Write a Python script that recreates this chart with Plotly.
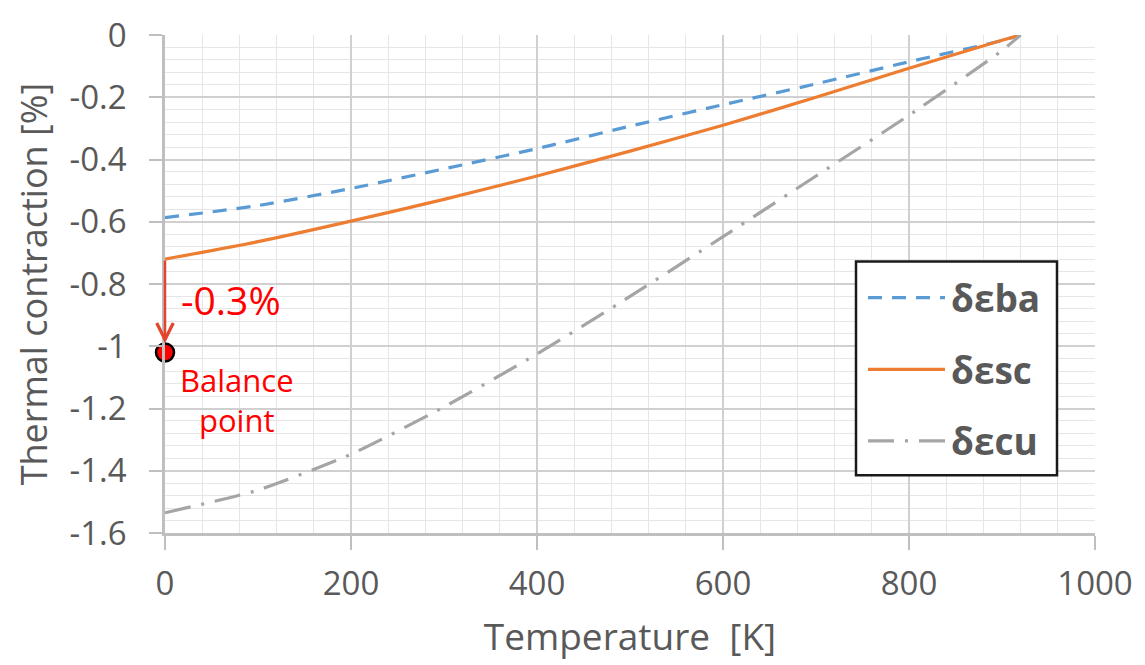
import plotly.graph_objects as go

# ---- data ----
temperature_K = [0, 100, 200, 300, 400, 500, 600, 700, 800, 900, 920]
d_eps_ba = [-0.587, -0.548, -0.493, -0.430, -0.365, -0.293, -0.224, -0.157, -0.086, -0.018, 0.0]
d_eps_sc = [-0.720, -0.664, -0.598, -0.528, -0.453, -0.373, -0.290, -0.200, -0.107, -0.017, 0.0]
d_eps_cu = [-1.535, -1.462, -1.347, -1.195, -1.025, -0.840, -0.648, -0.453, -0.258, -0.050, 0.0]
series_names = ["δεba", "δεsc", "δεcu"]

x_tick_vals = [0, 200, 400, 600, 800, 1000]
x_tick_text = ["0", "200", "400", "600", "800", "1000"]
y_tick_vals = [0, -0.2, -0.4, -0.6, -0.8, -1.0, -1.2, -1.4, -1.6]
y_tick_text = ["0", "-0.2", "-0.4", "-0.6", "-0.8", "-1", "-1.2", "-1.4", "-1.6"]

balance_T = [0]
balance_val = [-1.02]
arrow_start_val = d_eps_sc[0]

# ---- styles ----
colors = ["#5B9BD5", "#ED7D31", "#A5A5A5"]
dashes = ["14px,10px", "solid", "26px,11px,3px,11px"]
FONT = "Open Sans"
GREY = "#595959"
RED = "#FF0000"

fig = go.Figure()
for name, vals, c, d in zip(series_names, [d_eps_ba, d_eps_sc, d_eps_cu], colors, dashes):
    fig.add_trace(go.Scatter(x=temperature_K, y=vals, mode="lines", name=name,
                             line=dict(color=c, width=3.2, dash=d, shape="spline", smoothing=0.6),
                             showlegend=False, hoverinfo="skip"))

# arrow from orange line start to balance point
fig.add_annotation(x=balance_T[0], y=balance_val[0] + 0.03, ax=balance_T[0], ay=arrow_start_val,
                   xref="x", yref="y", axref="x", ayref="y", text="", showarrow=True,
                   arrowhead=5, arrowsize=1.3, arrowwidth=2.5, arrowcolor="#E2452B")

fig.add_trace(go.Scatter(x=balance_T, y=balance_val, mode="markers",
                         marker=dict(size=18, color="#FF0000", line=dict(color="black", width=2.5)),
                         showlegend=False, cliponaxis=False, hoverinfo="skip"))

fig.add_annotation(x=15, y=-0.85, xref="x", yref="y", text="-0.3%", showarrow=False,
                   xanchor="left", yanchor="middle", font=dict(family=FONT, size=39, color=RED))
fig.add_annotation(x=77, y=-1.110, xref="x", yref="y", text="Balance", showarrow=False,
                   xanchor="center", yanchor="middle", font=dict(family=FONT, size=31, color=RED))
fig.add_annotation(x=77, y=-1.238, xref="x", yref="y", text="point", showarrow=False,
                   xanchor="center", yanchor="middle", font=dict(family=FONT, size=31, color=RED))

# ---- manual legend (paper coordinates) ----
W, H = 1145, 665
L, R, T, B = 165, 50, 25, 132
pw, ph = W - L - R, H - T - B
def px(xp):
    return (xp - L) / pw
def py(yp):
    return 1 - (yp - T) / ph

fig.add_shape(type="rect", xref="paper", yref="paper",
              x0=px(856), x1=px(1057), y0=py(474), y1=py(256),
              line=dict(color="#1a1a1a", width=2.5), fillcolor="white", layer="above")
for i, (name, c, d) in enumerate(zip(series_names, colors, dashes)):
    yy = py(293 + 73 * i)
    fig.add_shape(type="line", xref="paper", yref="paper", x0=px(868), x1=px(945), y0=yy, y1=yy,
                  line=dict(color=c, width=3.2, dash=d), layer="above")
    fig.add_annotation(xref="paper", yref="paper", x=px(949), y=yy, text="<b>%s</b>" % name,
                       showarrow=False, xanchor="left", yanchor="middle",
                       font=dict(family=FONT, size=37, color=GREY))

fig.update_layout(
    width=W, height=H, margin=dict(l=L, r=R, t=T, b=B),
    paper_bgcolor="white", plot_bgcolor="white",
    font=dict(family=FONT, color=GREY),
    xaxis=dict(range=[0, 1000], tickvals=x_tick_vals, ticktext=x_tick_text,
               showgrid=True, gridcolor="#D0D0D0", gridwidth=1.5,
               minor=dict(dtick=40, showgrid=True, gridcolor="#E6E6E6", gridwidth=1.2),
               showline=True, linecolor="#BFBFBF", linewidth=2.5,
               ticks="outside", ticklen=14, tickcolor="#BFBFBF", tickwidth=2,
               tickfont=dict(family=FONT, size=33, color=GREY), ticklabelstandoff=6,
               zeroline=False,
               title=dict(text="Temperature  [K]", font=dict(family=FONT, size=37, color=GREY), standoff=20)),
    yaxis=dict(range=[-1.6, 0], tickvals=y_tick_vals, ticktext=y_tick_text,
               showgrid=True, gridcolor="#D0D0D0", gridwidth=1.5,
               minor=dict(dtick=0.04, showgrid=True, gridcolor="#E6E6E6", gridwidth=1.2),
               showline=True, linecolor="#BFBFBF", linewidth=2.5,
               ticks="outside", ticklen=13, tickcolor="#BFBFBF", tickwidth=2,
               tickfont=dict(family=FONT, size=33, color=GREY), ticklabelstandoff=16,
               zeroline=False,
               title=dict(text="Thermal contraction [%]", font=dict(family=FONT, size=36, color=GREY), standoff=12)),
)

fig.write_html("out.html")
